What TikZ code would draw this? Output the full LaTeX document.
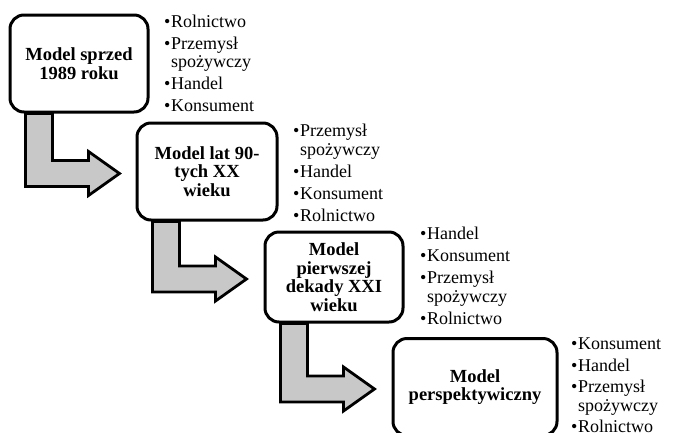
\documentclass[tikz,border=0pt]{standalone}
\usepackage{fontspec}
\setmainfont{Liberation Serif}
\usetikzlibrary{calc, positioning}
\definecolor{szary}{RGB}{200,200,200}
\newcommand{\pkt}{\makebox[7pt][l]{\textbullet}}
\newcommand{\wciecie}{\hspace*{7pt}}

\begin{document}
\begin{tikzpicture}[x=1pt, y=-1pt,
  model/.style={rectangle, draw, rounded corners=14pt, line width=3pt,
    minimum width=138pt, minimum height=97pt, align=center, fill=white,
    inner sep=3pt, font=\fontsize{18.5}{18.5}\selectfont\bfseries},
  lista/.style={anchor=north west, align=left, inner sep=0pt,
    font=\fontsize{18}{18.5}\selectfont},
  zagiecie/.style={draw, line width=2.8pt, fill=szary, line join=miter}
]
\useasboundingbox (0,0) rectangle (675,432);

% modele
\node[model] (m1) at (79,63.5) {Model sprzed\\1989 roku};
\node[model, minimum width=140pt] (m2) at (207,171.5) {Model lat 90-\\tych XX\\wieku};
\node[model, minimum height=90pt] (m3) at (334,277) {Model\\pierwszej\\dekady XXI\\wieku};
\node[model, minimum width=164pt] (m4) at (475,387) {Model\\perspektywiczny};

% listy
\node[lista] (l1) at (164,14.5) {\pkt Rolnictwo\\[3.5pt]\pkt Przemysł\\\wciecie spożywczy\\[3.5pt]\pkt Handel\\[3.5pt]\pkt Konsument};
\node[lista] (l2) at (293,124) {\pkt Przemysł\\\wciecie spożywczy\\[3.5pt]\pkt Handel\\[3.5pt]\pkt Konsument\\[3.5pt]\pkt Rolnictwo};
\node[lista] (l3) at (420,227) {\pkt Handel\\[3.5pt]\pkt Konsument\\[3.5pt]\pkt Przemysł\\\wciecie spożywczy\\[3.5pt]\pkt Rolnictwo};
\node[lista] (l4) at (571,338) {\pkt Konsument\\[3pt]\pkt Handel\\[3pt]\pkt Przemysł\\\wciecie spożywczy\\[3pt]\pkt Rolnictwo};

% strzalki
\foreach \a/\b in {m1/m2, m2/m3, m3/m4} {
  \coordinate (s) at ($(\a.south west)+(17,0)$);
  \coordinate (c0) at (s |- \b.west);
  \coordinate (c) at ($(c0)+(0,2)$);
  \draw[zagiecie] (s) -- ($(c)+(0,13)$) -- ($(c)+(63,13)$) -- ($(c)+(63,22)$)
    -- ($(c)+(94,0)$) -- ($(c)+(63,-22)$) -- ($(c)+(63,-13)$)
    -- ($(c)+(27,-13)$) -- ($(s)+(27,0)$) -- cycle;
}
\end{tikzpicture}
\end{document}
